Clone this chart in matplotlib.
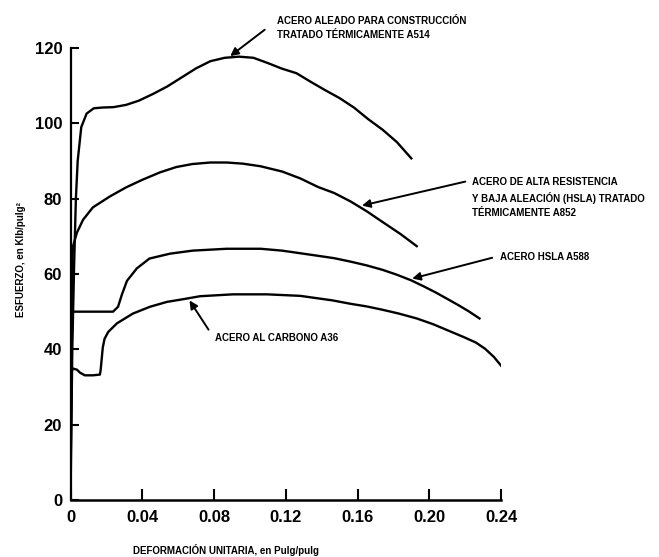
import matplotlib.pyplot as plt
import numpy as np

# curvas esfuerzo-deformacion
a514_x = [0, 0.001, 0.002, 0.003, 0.004, 0.006, 0.009, 0.013, 0.018, 0.024, 0.031, 0.038, 0.046,
          0.054, 0.062, 0.070, 0.078, 0.086, 0.094, 0.102, 0.110, 0.118, 0.126, 0.134, 0.142,
          0.150, 0.158, 0.166, 0.174, 0.182, 0.190]
a514_y = [0, 40, 62, 80, 90, 99, 102.6, 104.0, 104.2, 104.3, 104.9, 106.0, 107.8,
          109.8, 112.2, 114.6, 116.5, 117.4, 117.7, 117.4, 116.0, 114.5, 113.3, 111.0, 108.8,
          106.7, 104.2, 101.1, 98.3, 95.0, 90.7]

a852_x = [0, 0.0008, 0.0014, 0.0036, 0.007, 0.0125, 0.022, 0.031, 0.040, 0.050, 0.059, 0.068,
          0.078, 0.087, 0.096, 0.106, 0.118, 0.128, 0.138, 0.147, 0.156, 0.165, 0.174, 0.184, 0.193]
a852_y = [0, 62, 67.4, 71, 74.4, 77.7, 80.6, 83.0, 85.0, 87.0, 88.4, 89.2,
          89.6, 89.6, 89.3, 88.6, 87.2, 85.4, 83.1, 81.5, 79.3, 76.7, 73.8, 70.6, 67.4]

a588_x = [0, 0.0005, 0.0237, 0.0265, 0.0287, 0.0315, 0.037, 0.044, 0.0555, 0.068, 0.087,
          0.106, 0.118, 0.137, 0.147, 0.156, 0.165, 0.174, 0.182, 0.190, 0.197, 0.204,
          0.210, 0.216, 0.222, 0.228]
a588_y = [0, 50.0, 50.0, 51.3, 54.6, 58.2, 61.5, 64.1, 65.4, 66.2, 66.7,
          66.7, 66.2, 64.9, 64.2, 63.3, 62.3, 61.1, 59.8, 58.3, 56.7, 55.0,
          53.4, 51.8, 50.1, 48.2]

a36_x = [0, 0.0005, 0.0014, 0.0036, 0.0053, 0.008, 0.0125, 0.0164, 0.0168, 0.0174, 0.018,
         0.019, 0.021, 0.0259, 0.0348, 0.0443, 0.0538, 0.0627, 0.0722, 0.0906, 0.1095, 0.128,
         0.146, 0.156, 0.165, 0.174, 0.183, 0.193, 0.202, 0.211, 0.219, 0.226, 0.231, 0.236, 0.2405]
a36_y = [0, 34.0, 34.9, 34.6, 33.8, 33.1, 33.1, 33.3, 34.5, 37.5, 40.5,
         42.8, 44.6, 46.9, 49.5, 51.3, 52.6, 53.3, 54.1, 54.6, 54.6, 54.2,
         53.0, 52.1, 51.4, 50.5, 49.5, 48.2, 46.7, 44.9, 43.3, 41.8, 40.2, 38.0, 35.4]

x_ticks = [0, 0.04, 0.08, 0.12, 0.16, 0.20, 0.24]
x_labels = ['0', '0.04', '0.08', '0.12', '0.16', '0.20', '0.24']
y_ticks = [0, 20, 40, 60, 80, 100, 120]

plt.rcParams['font.family'] = ['Liberation Sans', 'DejaVu Sans']

fig = plt.figure(figsize=(6.59, 5.57), dpi=100)
ax = fig.add_axes([70.5 / 659, 57 / 557, 430.5 / 659, 452 / 557])

for xs, ys in [(a514_x, a514_y), (a852_x, a852_y), (a588_x, a588_y), (a36_x, a36_y)]:
    ax.plot(xs, ys, color='black', lw=1.7, solid_joinstyle='round')

ax.set_xlim(0, 0.24)
ax.set_ylim(0, 120)
ax.spines['top'].set_visible(False)
ax.spines['right'].set_visible(False)
ax.spines['left'].set_linewidth(1.6)
ax.spines['bottom'].set_linewidth(1.8)
ax.set_xticks(x_ticks)
ax.set_xticklabels(x_labels)
ax.set_yticks(y_ticks)
ax.tick_params(axis='x', direction='in', length=8, width=1.5, labelsize=12, pad=7)
ax.tick_params(axis='y', direction='in', length=6, width=1.5, labelsize=12, pad=6)
for lb in ax.get_xticklabels() + ax.get_yticklabels():
    lb.set_fontweight('bold')

ax.set_xlabel('DEFORMACIÓN UNITARIA, en Pulg/pulg', fontsize=7, fontweight='bold')
ax.set_ylabel('ESFUERZO, en Klb/pulg²', fontsize=7, fontweight='bold')
ax.xaxis.set_label_coords(0.361, -0.097)
ax.yaxis.set_label_coords(-0.103, 0.531)

arrow = dict(arrowstyle='-|>', color='black', lw=1.4, mutation_scale=12)
notes = [
    ('ACERO ALEADO PARA CONSTRUCCIÓN\nTRATADO TÉRMICAMENTE A514', (0.0878, 117.4), (0.1095, 125.3), (0.1151, 125.2)),
    ('ACERO DE ALTA RESISTENCIA\nY BAJA ALEACIÓN (HSLA) TRATADO\nTÉRMICAMENTE A852', (0.161, 78.0), (0.2216, 84.7), (0.2238, 80.4)),
    ('ACERO HSLA A588', (0.189, 58.6), (0.2366, 64.5), (0.2394, 64.5)),
    ('ACERO AL CARBONO A36', (0.0655, 53.6), (0.0778, 44.6), (0.0805, 43.0)),
]
for txt, tip, tail, pos in notes:
    ax.annotate('', xy=tip, xytext=tail, arrowprops=arrow, annotation_clip=False)
    ax.text(pos[0], pos[1], txt, fontsize=7, fontweight='bold', ha='left', va='center',
            linespacing=1.5, clip_on=False)

fig.savefig('out.png', dpi=100)
